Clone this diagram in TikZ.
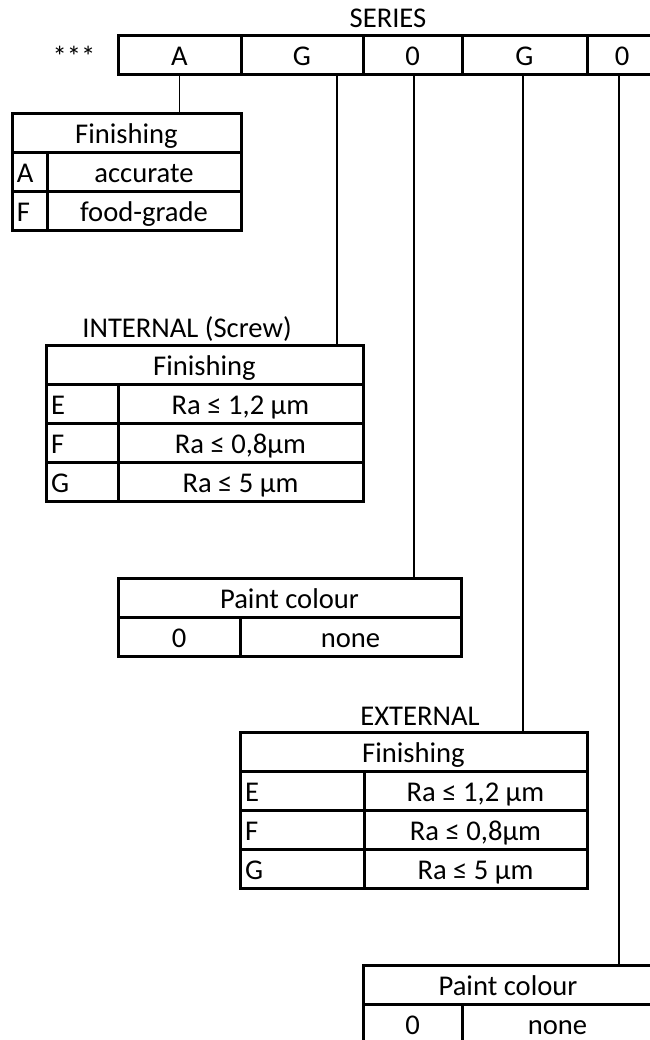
\documentclass[tikz,border=0pt]{standalone}
\usepackage{fontspec}
\setmainfont{Carlito}
\usepackage{tikz}
\usetikzlibrary{positioning}

\begin{document}
\begin{tikzpicture}[
  x=0.5pt, y=-0.5pt,
  font=\fontsize{14.3pt}{17pt}\selectfont,
  cell/.style={draw, line width=1.5pt, inner sep=0pt, outer sep=0pt,
               minimum height=19.5pt, text height=10.5pt, text depth=0pt},
  key/.style={cell, inner xsep=2.5pt, align=left},
  lbl/.style={inner sep=0pt, anchor=base},
  link/.style={line width=0.6pt},
]
\useasboundingbox (0,0) rectangle (649,1040);

% code row
\node[lbl] (series) at (388,27) {SERIES};
\node[lbl] (stars) at (74,66) {***};
\node[cell, anchor=north west, minimum width=61.5pt] (cA) at (118,35) {A};
\node[cell, minimum width=61pt, right=0pt of cA] (cG1) {G};
\node[cell, minimum width=49.5pt, right=0pt of cG1] (c01) {0};
\node[cell, minimum width=62.5pt, right=0pt of c01] (cG2) {G};
\node[cell, minimum width=35pt, right=0pt of cG2] (c02) {0};

% finishing
\node[cell, anchor=north west, minimum width=114.5pt] (finHead) at (12,113) {Finishing};
\node[key, text width=12.5pt, anchor=north west] (aKey) at (finHead.south west) {A};
\node[cell, minimum width=97pt, right=0pt of aKey] (aVal) {accurate};
\node[key, text width=12.5pt, below=0pt of aKey] (fKey) {F};
\node[cell, minimum width=97pt, right=0pt of fKey] (fVal) {food-grade};

% internal (screw)
\node[lbl] (intLbl) at (187,337) {INTERNAL (Screw)};
\node[cell, anchor=north west, minimum width=158.5pt] (intHead) at (46,345) {Finishing};
\node[key, text width=31pt, anchor=north west] (intE) at (intHead.south west) {E};
\node[cell, minimum width=122.5pt, right=0pt of intE] (intEv) {Ra ≤ 1,2 µm};
\node[key, text width=31pt, below=0pt of intE] (intF) {F};
\node[cell, minimum width=122.5pt, right=0pt of intF] (intFv) {Ra ≤ 0,8µm};
\node[key, text width=31pt, below=0pt of intF] (intG) {G};
\node[cell, minimum width=122.5pt, right=0pt of intG] (intGv) {Ra ≤ 5 µm};

% paint colour 1
\node[cell, anchor=north west, minimum width=171.5pt] (p1Head) at (118,578) {Paint colour};
\node[cell, minimum width=61pt, anchor=north west] (p1Key) at (p1Head.south west) {0};
\node[cell, minimum width=110.5pt, right=0pt of p1Key] (p1Val) {none};

% external
\node[lbl] (extLbl) at (420,725) {EXTERNAL};
\node[cell, anchor=north west, minimum width=173.5pt] (extHead) at (240,732) {Finishing};
\node[key, text width=57pt, anchor=north west] (extE) at (extHead.south west) {E};
\node[cell, minimum width=111.5pt, right=0pt of extE] (extEv) {Ra ≤ 1,2 µm};
\node[key, text width=57pt, below=0pt of extE] (extF) {F};
\node[cell, minimum width=111.5pt, right=0pt of extF] (extFv) {Ra ≤ 0,8µm};
\node[key, text width=57pt, below=0pt of extF] (extG) {G};
\node[cell, minimum width=111.5pt, right=0pt of extG] (extGv) {Ra ≤ 5 µm};

% paint colour 2
\node[cell, anchor=north west, minimum width=145pt] (p2Head) at (363,965) {Paint colour};
\node[cell, minimum width=49.5pt, anchor=north west] (p2Key) at (p2Head.south west) {0};
\node[cell, minimum width=95.5pt, right=0pt of p2Key] (p2Val) {none};

% links
\coordinate (k2) at (337,74);
\coordinate (k3) at (414,74);
\coordinate (k4) at (523,74);
\coordinate (k5) at (619,74);
\draw[link] (cA.south) -- (cA.south |- finHead.north);
\draw[link] (k2) -- (k2 |- intHead.north);
\draw[link] (k3) -- (k3 |- p1Head.north);
\draw[link] (k4) -- (k4 |- extHead.north);
\draw[link] (k5) -- (k5 |- p2Head.north);
\end{tikzpicture}
\end{document}
